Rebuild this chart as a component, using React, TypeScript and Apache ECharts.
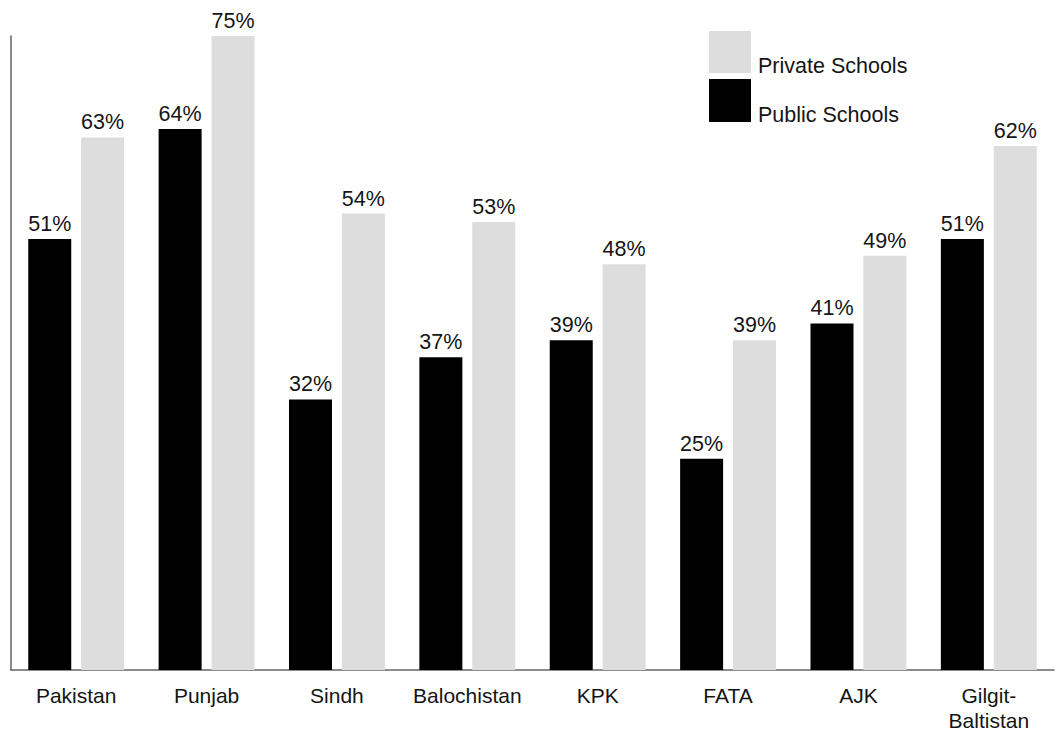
import React, { useEffect, useRef } from "react";
import * as echarts from "echarts";

const regions = ["Pakistan", "Punjab", "Sindh", "Balochistan", "KPK", "FATA", "AJK", "Gilgit-\nBaltistan"];
const publicSchools = [51, 64, 32, 37, 39, 25, 41, 51];
const privateSchools = [63, 75, 54, 53, 48, 39, 49, 62];
const legendLabels = ["Private Schools", "Public Schools"];

const FONT = "Helvetica, Arial, 'Liberation Sans', sans-serif";
const BLACK = "#000000";
const GREY = "#dddddd";
const TEXT = "#151515";

export default function App() {
  const ref = useRef<HTMLDivElement>(null);

  useEffect(() => {
    if (!ref.current) return;
    const chart = echarts.init(ref.current, null, { renderer: "svg" });
    const valueLabel = {
      show: true,
      position: "top" as const,
      distance: 4,
      formatter: "{c}%",
      color: TEXT,
      fontSize: 21.5,
      fontFamily: FONT,
    };
    chart.setOption({
      animation: false,
      backgroundColor: "#ffffff",
      grid: { left: 11, top: 36, width: 1043, height: 636, containLabel: false },
      xAxis: {
        type: "category",
        data: regions,
        axisLine: { show: true, lineStyle: { color: "#666", width: 1.5 } },
        axisTick: { show: false },
        axisLabel: {
          color: TEXT,
          fontSize: 21,
          fontFamily: FONT,
          lineHeight: 25,
          margin: 13,
          interval: 0,
        },
      },
      yAxis: {
        type: "value",
        min: 0,
        max: 75,
        axisLine: { show: true, lineStyle: { color: "#666", width: 1.5 } },
        axisTick: { show: false },
        axisLabel: { show: false },
        splitLine: { show: false },
      },
      series: [
        {
          name: legendLabels[1],
          type: "bar",
          data: publicSchools,
          barWidth: 43,
          barGap: "23%",
          itemStyle: { color: BLACK },
          label: valueLabel,
        },
        {
          name: legendLabels[0],
          type: "bar",
          data: privateSchools,
          barWidth: 43,
          itemStyle: { color: GREY },
          label: valueLabel,
        },
      ],
      graphic: [
        { type: "rect", left: 709, top: 31, shape: { width: 42, height: 42 }, style: { fill: GREY } },
        { type: "rect", left: 709, top: 79, shape: { width: 42, height: 43 }, style: { fill: BLACK } },
        {
          type: "text",
          x: 758,
          y: 66,
          style: {
            text: legendLabels[0],
            fill: TEXT,
            fontSize: 21.5,
            fontFamily: FONT,
            verticalAlign: "middle",
            align: "left",
          },
        },
        {
          type: "text",
          x: 758,
          y: 115,
          style: {
            text: legendLabels[1],
            fill: TEXT,
            fontSize: 21.5,
            fontFamily: FONT,
            verticalAlign: "middle",
            align: "left",
          },
        },
      ],
    });
    return () => chart.dispose();
  }, []);

  return (
    <div
      ref={ref}
      style={{ position: "fixed", left: 0, top: 0, width: 1059, height: 733, background: "#fff" }}
    />
  );
}
